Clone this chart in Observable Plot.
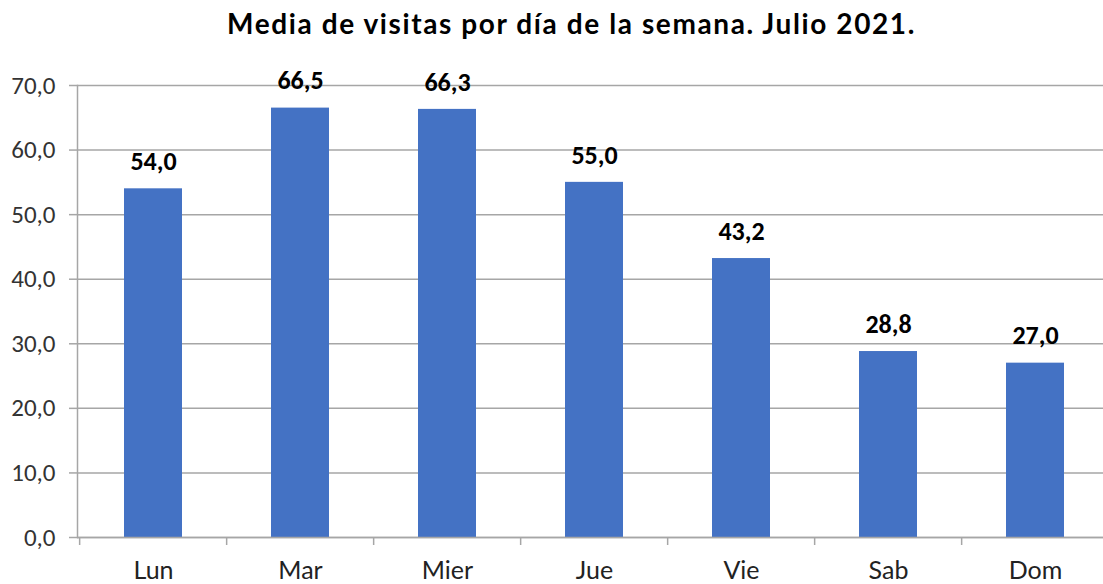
<!DOCTYPE html>
<html>
<head>
<meta charset="utf-8">
<script src="https://cdn.jsdelivr.net/npm/d3@7"></script>
<script src="https://cdn.jsdelivr.net/npm/@observablehq/plot@0.6"></script>
<style>
  html, body { margin: 0; padding: 0; background: #fff; }
  #title { height: 50px; box-sizing: border-box; padding-top: 6px; text-align: center;
    font-family: "Century Gothic", Lato, "DejaVu Sans", sans-serif; font-weight: bold; font-size: 28px;
    letter-spacing: 1.6px; color: #000; padding-left: 40px; }
  #chart svg { display: block; }
</style>
</head>
<body>
<div id="title">Media de visitas por día de la semana. Julio 2021.</div>
<div id="chart"></div>
<script>
const days = ["Lun", "Mar", "Mier", "Jue", "Vie", "Sab", "Dom"];
const visits = [54.0, 66.5, 66.3, 55.0, 43.2, 28.8, 27.0];
const yTicks = [0, 10, 20, 30, 40, 50, 60, 70];

const data = days.map((d, i) => ({day: d, value: visits[i]}));
const fmt = v => v.toFixed(1).replace(".", ",");

const W = 1103, H = 534;
const xRange = [77, 1111];
const step = (xRange[1] - xRange[0]) / days.length;
const grid = "#a6a6a6";

const chart = Plot.plot({
  width: W,
  height: H,
  marginTop: 35,
  marginBottom: 47,
  marginLeft: 77,
  marginRight: 0,
  style: {background: "#fff", overflow: "visible"},
  x: {domain: days, range: xRange, paddingInner: 0.605, paddingOuter: 0.3025, label: null},
  y: {domain: [0, 70], label: null},
  marks: [
    Plot.gridY(yTicks, {stroke: grid, strokeOpacity: 1, strokeWidth: 1.5}),
    Plot.axisY(yTicks, {tickSize: 8, tickPadding: 14, stroke: grid, strokeWidth: 1.5, tickFormat: fmt,
      fontSize: 25, fontFamily: "Carlito, Liberation Sans Narrow, Liberation Sans, sans-serif", fill: "#333", label: null}),
    Plot.frame({anchor: "left", stroke: grid, strokeWidth: 1.5}),
    Plot.axisX({tickSize: 8, text: null, dx: -step / 2, stroke: grid, strokeWidth: 1.5, label: null}),
    Plot.axisX({tickSize: 0, tickPadding: 24, fontSize: 25, fill: "#222",
      fontFamily: "Century Gothic, Lato, DejaVu Sans, sans-serif", label: null}),
    Plot.barY(data, {x: "day", y: "value", fill: "#4472C4"}),
    Plot.ruleY([0], {stroke: grid, strokeWidth: 1.5}),
    Plot.text(data, {x: "day", y: "value", text: d => fmt(d.value), dy: -27, fontSize: 26, fontWeight: "bold",
      fontFamily: "Carlito, Liberation Sans Narrow, Liberation Sans, sans-serif", fill: "#000"})
  ]
});
document.getElementById("chart").appendChild(chart);
</script>
</body>
</html>
